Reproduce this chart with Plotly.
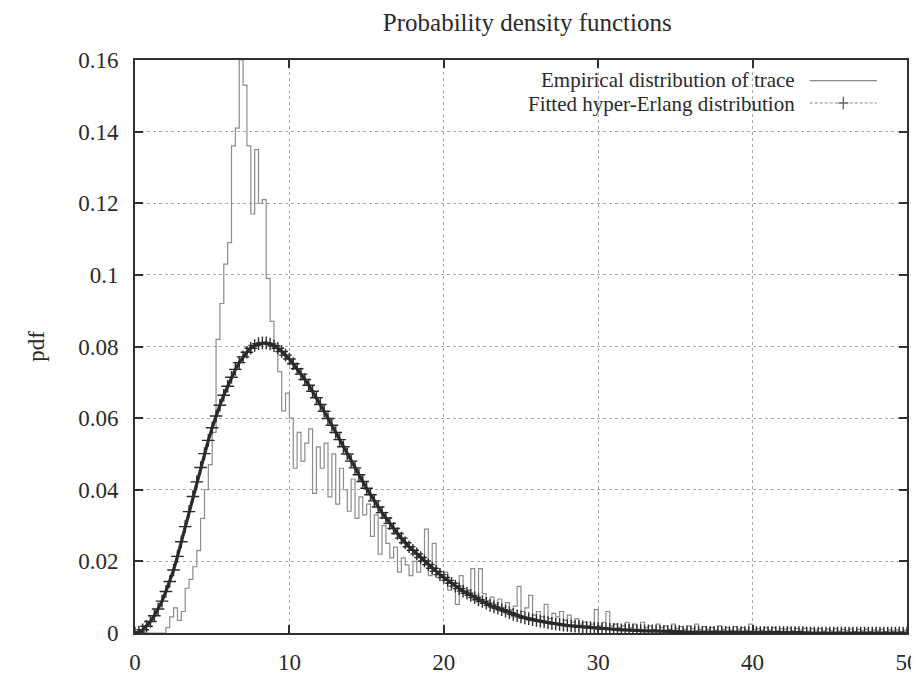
import numpy as np
import plotly.graph_objects as go

# ---------------- data ----------------
BIN_WIDTH = 0.25
# empirical pdf of the trace, 4 bins per unit of x (bin starts 0, 0.25, ... 49.75)
emp_values = [
    0, 0, 0, 0,                              # 0
    0, 0, 0, 0,                              # 1
    0.0015, 0.0045, 0.0070, 0.0035,          # 2
    0.0060, 0.0125, 0.0150, 0.0185,          # 3
    0.0230, 0.0320, 0.0400, 0.0470,          # 4
    0.0560, 0.0820, 0.0920, 0.1030,          # 5
    0.1090, 0.1360, 0.1410, 0.1600,          # 6
    0.1530, 0.1360, 0.1170, 0.1350,          # 7
    0.1200, 0.1210, 0.0990, 0.0870,          # 8
    0.0800, 0.0730, 0.0620, 0.0670,          # 9
    0.0600, 0.0460, 0.0560, 0.0480,          # 10
    0.0530, 0.0570, 0.0390, 0.0520,          # 11
    0.0460, 0.0530, 0.0380, 0.0500,          # 12
    0.0360, 0.0460, 0.0400, 0.0340,          # 13
    0.0430, 0.0320, 0.0380, 0.0330,          # 14
    0.0360, 0.0270, 0.0330, 0.0220,          # 15
    0.0300, 0.0250, 0.0210, 0.0240,          # 16
    0.0170, 0.0210, 0.0190, 0.0160,          # 17
    0.0200, 0.0170, 0.0210, 0.0290,          # 18
    0.0160, 0.0250, 0.0180, 0.0170,          # 19
    0.0170, 0.0120, 0.0140, 0.0080,          # 20
    0.0160, 0.0110, 0.0120, 0.0180,          # 21
    0.0100, 0.0180, 0.0110, 0.0090,          # 22
    0.0100, 0.0080, 0.0095, 0.0070,          # 23
    0.0085, 0.0065, 0.0075, 0.0130,          # 24
    0.0060, 0.0070, 0.0105, 0.0050,          # 25
    0.0060, 0.0045, 0.0080, 0.0040,          # 26
    0.0055, 0.0045, 0.0060, 0.0035,          # 27
    0.0050, 0.0030, 0.0040, 0.0025,          # 28
    0.0030, 0.0020, 0.0025, 0.0065,          # 29
    0.0020, 0.0030, 0.0060, 0.0020,          # 30
    0.0025, 0.0015, 0.0020, 0.0030,          # 31
    0.0015, 0.0025, 0.0010, 0.0030,          # 32
    0.0015, 0.0020, 0.0010, 0.0025,          # 33
    0.0015, 0.0020, 0.0010, 0.0025,          # 34
    0.0012, 0.0018, 0.0010, 0.0020,          # 35
    0.0012, 0.0025, 0.0010, 0.0018,          # 36
    0.0010, 0.0015, 0.0008, 0.0020,          # 37
    0.0010, 0.0015, 0.0008, 0.0018,          # 38
    0.0010, 0.0015, 0.0008, 0.0025,          # 39
    0.0010, 0.0012, 0.0008, 0.0015,          # 40
    0.0008, 0.0015, 0.0006, 0.0012,          # 41
    0.0010, 0.0014, 0.0006, 0.0012,          # 42
    0.0008, 0.0013, 0.0005, 0.0012,          # 43
    0.0008, 0.0012, 0.0005, 0.0011,          # 44
    0.0007, 0.0012, 0.0005, 0.0010,          # 45
    0.0007, 0.0011, 0.0004, 0.0010,          # 46
    0.0006, 0.0010, 0.0004, 0.0009,          # 47
    0.0006, 0.0010, 0.0004, 0.0009,          # 48
    0.0005, 0.0009, 0.0004, 0.0008,          # 49
]

# fitted hyper-Erlang pdf sampled at x = 0, 0.25, ... 50
fit_values = [
    0.0000, 0.0003, 0.0009, 0.0019,          # 0
    0.0032, 0.0048, 0.0067, 0.0089,          # 1
    0.0116, 0.0144, 0.0176, 0.0214,          # 2
    0.0255, 0.0297, 0.0339, 0.0381,          # 3
    0.0422, 0.0462, 0.0501, 0.0538,          # 4
    0.0573, 0.0606, 0.0636, 0.0664,          # 5
    0.0689, 0.0714, 0.0736, 0.0755,          # 6
    0.0771, 0.0784, 0.0795, 0.0803,          # 7
    0.0808, 0.0810, 0.0810, 0.0807,          # 8
    0.0802, 0.0795, 0.0786, 0.0776,          # 9
    0.0765, 0.0752, 0.0738, 0.0723,          # 10
    0.0708, 0.0692, 0.0675, 0.0657,          # 11
    0.0638, 0.0619, 0.0599, 0.0580,          # 12
    0.0560, 0.0540, 0.0520, 0.0500,          # 13
    0.0480, 0.0461, 0.0442, 0.0423,          # 14
    0.0404, 0.0386, 0.0369, 0.0352,          # 15
    0.0336, 0.0321, 0.0306, 0.0292,          # 16
    0.0278, 0.0265, 0.0252, 0.0241,          # 17
    0.0231, 0.0221, 0.0211, 0.0201,          # 18
    0.0191, 0.0181, 0.0172, 0.0163,          # 19
    0.0155, 0.0147, 0.0139, 0.0131,          # 20
    0.0124, 0.0117, 0.0111, 0.0105,          # 21
    0.0099, 0.0093, 0.0088, 0.0083,          # 22
    0.0077, 0.0073, 0.0069, 0.0065,          # 23
    0.0061, 0.0057, 0.0052, 0.0048,          # 24
    0.0045, 0.0042, 0.0040, 0.0037,          # 25
    0.0035, 0.0033, 0.0031, 0.0029,          # 26
    0.0027, 0.0025, 0.0024, 0.0022,          # 27
    0.0021, 0.0020, 0.0019, 0.0018,          # 28
    0.0017, 0.0016, 0.0015, 0.0014,          # 29
    0.0013, 0.0012, 0.0012, 0.0011,          # 30
    0.0010, 0.0010, 0.0009, 0.0009,          # 31
    0.0008, 0.0008, 0.0007, 0.0007,          # 32
    0.0006, 0.0006, 0.0006, 0.0005,          # 33
    0.0005, 0.0005, 0.0004, 0.0004,          # 34
    0.0004, 0.0004, 0.0003, 0.0003,          # 35
    0.0003, 0.0003, 0.0003, 0.0002,          # 36
    0.0002, 0.0002, 0.0002, 0.0002,          # 37
    0.0002, 0.0002, 0.0001, 0.0001,          # 38
    0.0001, 0.0001, 0.0001, 0.0001,          # 39
    0.0001, 0.0001, 0.0001, 0.0001,          # 40
    0.0001, 0.0001, 0.0001, 0.0001,          # 41
    0.0001, 0.0001, 0.0001, 0.0001,          # 42
    0.0001, 0.0001, 0.0000, 0.0000,          # 43
    0.0000, 0.0000, 0.0000, 0.0000,          # 44
    0.0000, 0.0000, 0.0000, 0.0000,          # 45
    0.0000, 0.0000, 0.0000, 0.0000,          # 46
    0.0000, 0.0000, 0.0000, 0.0000,          # 47
    0.0000, 0.0000, 0.0000, 0.0000,          # 48
    0.0000, 0.0000, 0.0000, 0.0000,          # 49
    0.0000,                                  # 50
]

x_tickvals = [0, 10, 20, 30, 40, 50]
y_tickvals = [0, 0.02, 0.04, 0.06, 0.08, 0.1, 0.12, 0.14, 0.16]
title_text = "Probability density functions"
y_label = "pdf"
series_names = ["Empirical distribution of trace", "Fitted hyper-Erlang distribution"]

# ---------------- build ----------------
emp_x = list(np.arange(len(emp_values)) * BIN_WIDTH) + [len(emp_values) * BIN_WIDTH]
emp_y = emp_values + [emp_values[-1]]
fit_x = list(np.arange(len(fit_values)) * BIN_WIDTH)

FONT = "Liberation Serif, Times New Roman, serif"
TXT = "#2a2a2a"

fig = go.Figure()
fig.add_trace(go.Scatter(
    x=emp_x, y=emp_y, mode="lines", line_shape="hv",
    line=dict(color="#8c8c8c", width=1.2), name=series_names[0],
    showlegend=False,
))
fig.add_trace(go.Scatter(
    x=fit_x, y=fit_values, mode="lines+markers",
    line=dict(color="#2a2a2a", width=3.2),
    marker=dict(symbol="cross-thin", size=9, line=dict(color="#2a2a2a", width=1.4)),
    name=series_names[1], showlegend=False,
))

axis_common = dict(
    showline=True, linecolor="#303030", linewidth=2, mirror="allticks",
    ticks="inside", ticklen=8, tickwidth=2, tickcolor="#303030",
    showgrid=True, gridcolor="#a8a8a8", griddash="dot", gridwidth=1,
    zeroline=False, automargin=False,
    tickfont=dict(family=FONT, size=23, color=TXT),
)

fig.update_xaxes(range=[0, 50], tickvals=x_tickvals, ticklabelstandoff=7, **axis_common)
fig.update_yaxes(range=[0, 0.16], tickvals=y_tickvals, ticklabelstandoff=10, **axis_common)

LEG_FONT = dict(family=FONT, size=21, color=TXT)
# legend drawn gnuplot-style (text right aligned, sample to the right)
ann = [
    dict(text=series_names[0], xref="paper", yref="paper", x=0.857, y=0.965,
         xanchor="right", yanchor="middle", showarrow=False, font=LEG_FONT),
    dict(text=series_names[1], xref="paper", yref="paper", x=0.857, y=0.924,
         xanchor="right", yanchor="middle", showarrow=False, font=LEG_FONT),
    dict(text=y_label, xref="paper", yref="paper", x=-0.128, y=0.50,
         xanchor="center", yanchor="middle", textangle=-90, showarrow=False,
         font=dict(family=FONT, size=23, color=TXT)),
]
shapes = [
    dict(type="line", xref="paper", yref="paper", x0=0.874, x1=0.961, y0=0.964, y1=0.964,
         line=dict(color="#8c8c8c", width=1.2)),
    dict(type="line", xref="paper", yref="paper", x0=0.874, x1=0.961, y0=0.925, y1=0.925,
         line=dict(color="#8c8c8c", width=1.2, dash="3px,2px")),
    dict(type="line", xref="paper", yref="paper", x0=0.911, x1=0.924, y0=0.925, y1=0.925,
         line=dict(color="#6a6a6a", width=1.4)),
    dict(type="line", xref="paper", yref="paper", x0=0.9175, x1=0.9175, y0=0.914, y1=0.936,
         line=dict(color="#6a6a6a", width=1.4)),
]

# the page body adds an 8 px margin, so the figure is offset and sized accordingly
fig.update_layout(
    width=911, height=668,
    margin=dict(l=127, r=12, t=52, b=43),
    paper_bgcolor="white", plot_bgcolor="white",
    title=dict(text=title_text, x=0.570, xanchor="center", xref="container",
               y=0.979, yanchor="middle", yref="container",
               font=dict(family=FONT, size=25, color=TXT)),
    annotations=ann, shapes=shapes, showlegend=False,
)

fig.write_html("out.html")
